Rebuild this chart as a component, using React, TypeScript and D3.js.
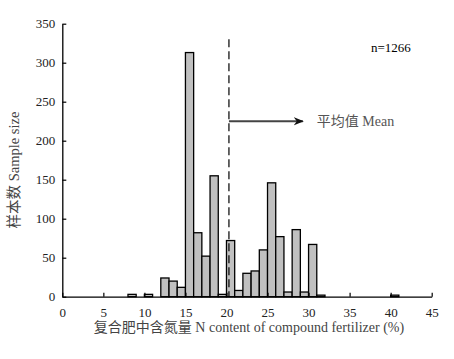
import React, { useRef, useEffect } from 'react';
import * as d3 from 'd3';

// histogram bins (left edge, % N) and sample counts
const binStarts = [8, 10, 12, 13, 14, 15, 16, 17, 18, 19, 20, 21, 22, 23, 24, 25, 26, 27, 28, 29, 30, 31, 40];
const counts = [3, 3, 24, 20, 12, 313, 82, 52, 155, 3, 72, 8, 30, 33, 60, 146, 77, 6, 86, 6, 67, 2, 2];
const xTicks = [0, 5, 10, 15, 20, 25, 30, 35, 40, 45];
const yTicks = [0, 50, 100, 150, 200, 250, 300, 350];
const meanValue = 20.3;
const sampleLabel = 'n=1266';
const meanLabel = '平均值 Mean';
const xTitle = '复合肥中含氮量 N content of compound fertilizer (%)';
const yTitle = '样本数 Sample size';

const FONT = "'Liberation Serif', 'Times New Roman', 'DejaVu Serif', 'Noto Sans CJK SC', serif";

function App() {
  const svgRef = useRef<SVGSVGElement>(null);
  const width = 454;
  const height = 359;

  useEffect(() => {
    const xScale = d3.scaleLinear().domain([0, 45]).range([62.3, 431.7]);
    const yScale = d3.scaleLinear().domain([0, 350]).range([296.7, 23.7]);

    const svg = d3.select(svgRef.current);
    svg.selectAll('*').remove();

    svg.append('defs')
      .append('marker')
      .attr('id', 'arrow')
      .attr('viewBox', '0 0 10 10')
      .attr('refX', 9)
      .attr('refY', 5)
      .attr('markerWidth', 5)
      .attr('markerHeight', 5)
      .attr('markerUnits', 'strokeWidth')
      .attr('orient', 'auto')
      .append('path')
      .attr('d', 'M0,1 L10,5 L0,9 L3,5 Z')
      .attr('fill', '#111');

    const bins = binStarts.map((s, i) => ({ start: s, count: counts[i] }));

    svg.append('g')
      .selectAll('rect')
      .data(bins)
      .enter()
      .append('rect')
      .attr('x', (d) => xScale(d.start))
      .attr('y', (d) => yScale(d.count))
      .attr('width', (d) => xScale(d.start + 1) - xScale(d.start))
      .attr('height', (d) => yScale(0) - yScale(d.count))
      .attr('fill', '#c0c0c0')
      .attr('stroke', '#000')
      .attr('stroke-width', 1.3);

    // mean line + arrow
    svg.append('line')
      .attr('x1', xScale(meanValue))
      .attr('x2', xScale(meanValue))
      .attr('y1', yScale(330))
      .attr('y2', yScale(0))
      .attr('stroke', '#000')
      .attr('stroke-width', 1.2)
      .attr('stroke-dasharray', '8,4');

    svg.append('line')
      .attr('x1', xScale(meanValue))
      .attr('x2', xScale(29.3))
      .attr('y1', yScale(225))
      .attr('y2', yScale(225))
      .attr('stroke', '#444')
      .attr('stroke-width', 2)
      .attr('marker-end', 'url(#arrow)');

    svg.append('text')
      .attr('x', xScale(31))
      .attr('y', yScale(225) + 5)
      .style('font-family', FONT)
      .attr('font-size', 14)
      .attr('fill', '#555')
      .text(meanLabel);

    svg.append('text')
      .attr('x', xScale(37.6))
      .attr('y', 52)
      .style('font-family', FONT)
      .attr('font-size', 13)
      .attr('fill', '#000')
      .text(sampleLabel);

    const xAxis = d3.axisBottom(xScale).tickValues(xTicks).tickSizeInner(-4).tickSizeOuter(0).tickPadding(11);
    const xg = svg.append('g').attr('transform', `translate(0,${yScale(0)})`).call(xAxis);
    xg.select('.domain').attr('stroke', '#000').attr('stroke-width', 1.3);
    xg.selectAll('line').attr('stroke', '#000').attr('stroke-width', 1.2);
    xg.selectAll('text').style('font-family', FONT).attr('font-size', 13).attr('fill', '#222');

    const yAxis = d3.axisLeft(yScale).tickValues(yTicks).tickSizeInner(-4).tickSizeOuter(0).tickPadding(7);
    const yg = svg.append('g').attr('transform', `translate(${xScale(0)},0)`).call(yAxis);
    yg.select('.domain').attr('stroke', '#000').attr('stroke-width', 1.3);
    yg.selectAll('line').attr('stroke', '#000').attr('stroke-width', 1.2);
    yg.selectAll('text').style('font-family', FONT).attr('font-size', 13).attr('fill', '#222');

    svg.append('text')
      .attr('x', 249)
      .attr('y', 332)
      .attr('text-anchor', 'middle')
      .style('font-family', FONT)
      .attr('font-size', 14)
      .attr('fill', '#444')
      .text(xTitle);

    svg.append('text')
      .attr('transform', 'translate(19,170) rotate(-90)')
      .attr('text-anchor', 'middle')
      .style('font-family', FONT)
      .attr('font-size', 14.5)
      .attr('fill', '#444')
      .text(yTitle);
  }, []);

  return (
    <svg
      ref={svgRef}
      width={width}
      height={height}
      style={{ position: 'absolute', left: 0, top: 0, background: '#fff' }}
    />
  );
}

export default App;
